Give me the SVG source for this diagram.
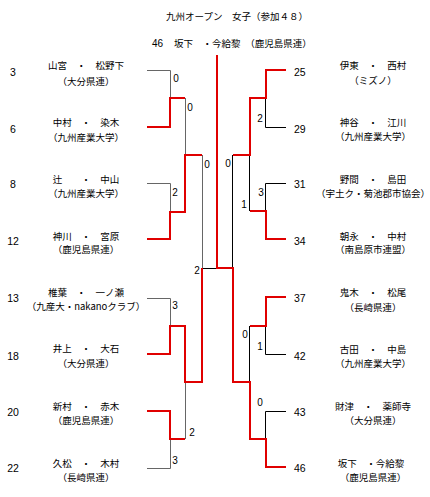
<svg xmlns="http://www.w3.org/2000/svg" width="430" height="497" viewBox="0 0 430 497">
<style>
text{font-family:"Noto Sans CJK JP","Noto Sans",sans-serif;font-size:9.5px;fill:#000}
.num{font-family:"Liberation Sans",Arial,sans-serif;font-size:10.5px}
.sc{font-family:"Liberation Sans",Arial,sans-serif;font-size:10px}
.m{text-anchor:middle}
.w{fill:none;stroke:#e00000;stroke-width:2}
.g{fill:none;stroke:#666;stroke-width:1}
.k{fill:none;stroke:#000;stroke-width:1}
</style>
<rect width="430" height="497" fill="#fff"/>
<g id="title">
<text x="166" y="20">九州オープン　女子（参加４８）</text>
<text y="47"><tspan x="152" class="num" style="font-size:10px">46</tspan><tspan x="174">坂下　・今給黎　（鹿児島県連）</tspan></text>
</g>
<g id="connectors">
<path class="g" d="M147,70.5H170.5V98"/>
<path class="g" d="M147,183.5H170.5V212"/>
<path class="g" d="M147,298.5H170.5V326"/>
<path class="g" d="M147,468.5H170.5V439"/>
<path class="g" d="M185.5,98V155"/>
<path class="g" d="M185.5,439V382"/>
<path class="g" d="M202.5,155V268"/>
<path class="k" d="M202,268.5H217"/>
<path class="k" d="M286,127.5H265.5V98"/>
<path class="k" d="M286,183.5H265.5V211"/>
<path class="k" d="M286,354.5H265.5V326"/>
<path class="k" d="M286,411.5H265.5V439"/>
<path class="k" d="M249.5,211V155"/>
<path class="k" d="M249.5,326V382"/>
<path class="k" d="M232.5,155V268"/>
<path class="w" d="M147,127H170V98H185"/>
<path class="w" d="M147,239H170V212H185V155H202"/>
<path class="w" d="M147,354H170V326H185V382H202V268"/>
<path class="w" d="M147,411H170V439H185"/>
<path class="w" d="M286,70H266V98H250V155H233"/>
<path class="w" d="M286,239H266V211H250"/>
<path class="w" d="M286,297H266V326H250"/>
<path class="w" d="M286,467H266V439H250V382H233V268H217V55"/>
<text class="sc m" x="176" y="82">0</text>
<text class="sc m" x="190" y="111">0</text>
<text class="sc m" x="175" y="196">2</text>
<text class="sc m" x="207" y="168">0</text>
<text class="sc m" x="197" y="274">2</text>
<text class="sc m" x="175" y="309">3</text>
<text class="sc m" x="192" y="436">2</text>
<text class="sc m" x="175" y="464">3</text>
<text class="sc m" x="260" y="122">2</text>
<text class="sc m" x="228" y="167">0</text>
<text class="sc m" x="261" y="196">3</text>
<text class="sc m" x="244" y="208">1</text>
<text class="sc m" x="245" y="338">0</text>
<text class="sc m" x="260" y="350">1</text>
<text class="sc m" x="260" y="406">0</text>
</g>
<g id="p3"><text class="num m" x="13" y="76">3</text><text class="m" x="86" y="69">山宮　・　松野下</text><text class="m" x="86" y="85">（大分県連）</text></g>
<g id="p6"><text class="num m" x="13" y="133">6</text><text class="m" x="86" y="126">中村　・　染木</text><text class="m" x="86" y="141">（九州産業大学）</text></g>
<g id="p8"><text class="num m" x="13" y="188">8</text><text class="m" x="86" y="183">辻　　・　中山</text><text class="m" x="86" y="197">（九州産業大学）</text></g>
<g id="p12"><text class="num m" x="13" y="245">12</text><text class="m" x="86" y="240">神川　・　宮原</text><text class="m" x="86" y="253">（鹿児島県連）</text></g>
<g id="p13"><text class="num m" x="13" y="302">13</text><text class="m" x="86" y="296">椎葉　・　一ノ瀬</text><text class="m" x="86" y="310">（九産大・nakanoクラブ）</text></g>
<g id="p18"><text class="num m" x="13" y="360">18</text><text class="m" x="86" y="352">井上　・　大石</text><text class="m" x="86" y="367">（大分県連）</text></g>
<g id="p20"><text class="num m" x="13" y="416">20</text><text class="m" x="86" y="410">新村　・　赤木</text><text class="m" x="86" y="424">（鹿児島県連）</text></g>
<g id="p22"><text class="num m" x="13" y="472">22</text><text class="m" x="86" y="467">久松　・　木村</text><text class="m" x="86" y="481">（長崎県連）</text></g>
<g id="p25"><text class="num" x="294" y="76">25</text><text class="m" x="373" y="69">伊東　・　西村</text><text class="m" x="373" y="84">（ミズノ）</text></g>
<g id="p29"><text class="num" x="294" y="133">29</text><text class="m" x="373" y="126">神谷　・　江川</text><text class="m" x="373" y="140">（九州産業大学）</text></g>
<g id="p31"><text class="num" x="294" y="188">31</text><text class="m" x="373" y="183">野間　・　島田</text><text class="m" x="373" y="197">（宇土ク・菊池郡市協会）</text></g>
<g id="p34"><text class="num" x="294" y="245">34</text><text class="m" x="373" y="240">朝永　・　中村</text><text class="m" x="373" y="253">（南島原市連盟）</text></g>
<g id="p37"><text class="num" x="294" y="302">37</text><text class="m" x="373" y="296">鬼木　・　松尾</text><text class="m" x="373" y="311">（長崎県連）</text></g>
<g id="p42"><text class="num" x="294" y="360">42</text><text class="m" x="373" y="353">古田　・　中島</text><text class="m" x="373" y="367">（九州産業大学）</text></g>
<g id="p43"><text class="num" x="294" y="416">43</text><text class="m" x="373" y="410">財津　・　薬師寺</text><text class="m" x="373" y="424">（大分県連）</text></g>
<g id="p46"><text class="num" x="294" y="472">46</text><text class="m" x="371" y="467">坂下　・今給黎</text><text class="m" x="373" y="481">（鹿児島県連）</text></g>
</svg>
